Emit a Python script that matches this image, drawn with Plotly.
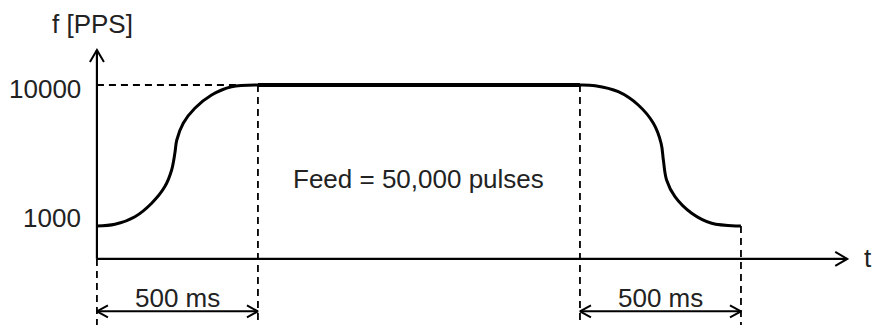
import plotly.graph_objects as go

# ---------------- data ----------------
ACCEL_T = [0, 56, 118, 170, 211, 232, 242, 248, 268, 304, 356, 418, 500]
ACCEL_F = [1000, 1108, 1594, 2455, 3515, 4574, 5640, 6489, 7555, 8513, 9362, 9891, 10000]
PLATEAU_T = [500, 1500]
PLATEAU_F = [10000, 10000]
DECEL_T = [1500, 1547, 1619, 1681, 1728, 1752, 1759, 1769, 1795, 1847, 1909, 1992, 2000]
DECEL_F = [10000, 9955, 9572, 8723, 7555, 6279, 5213, 3936, 2870, 1811, 1172, 1000, 1000]

TICK_VALUES = [10000, 1000]
TICK_LABELS = ["10000", "1000"]
SEGMENT_BOUNDS = [(0, 500), (1500, 2000)]
SEGMENT_LABELS = ["500 ms", "500 ms"]
Y_TITLE = "f [PPS]"
X_TITLE = "t"
FEED_TEXT = "Feed = 50,000 pulses"

# ---------------- layout geometry ----------------
W, H = 873, 325
X_RANGE = [-301, 2410]
Y_RANGE = [-5320, 15425]
AXIS_Y_MIN = -1100
AXIS_Y_MAX = 12230
AXIS_X_MAX = 2330
DIM_Y = -4450
sx = W / (X_RANGE[1] - X_RANGE[0])
sy = H / (Y_RANGE[1] - Y_RANGE[0])

FONT = dict(family="Liberation Sans, Arial, sans-serif", size=26, color="#222222")
BLACK = "#000000"


def chevron(t, f, ux, uy, length=12, half=7):
    """Open arrowhead at (t, f) pointing along screen direction (ux, uy)."""
    px, py = -uy, ux
    xs, ys = [], []
    for s in (1, -1):
        ox = -ux * length + s * px * half
        oy = -uy * length + s * py * half
        xs.append(t + ox / sx)
        ys.append(f - oy / sy)
    return [xs[0], t, xs[1], None], [ys[0], f, ys[1], None]


fig = go.Figure()


def add_line(x, y, width=2, dash=None, shape="linear"):
    fig.add_trace(go.Scatter(
        x=x, y=y, mode="lines", hoverinfo="skip", showlegend=False,
        line=dict(color=BLACK, width=width, dash=dash, shape=shape, smoothing=1.0),
    ))


# dashed guides
DASH = "7px,5px"
add_line([0, ACCEL_T[-1]], [TICK_VALUES[0], TICK_VALUES[0]], width=1.8, dash=DASH)
add_line([0, 0], [AXIS_Y_MIN, Y_RANGE[0]], width=1.8, dash=DASH)
add_line([ACCEL_T[-1], ACCEL_T[-1]], [ACCEL_F[-1], Y_RANGE[0]], width=1.8, dash=DASH)
add_line([DECEL_T[0], DECEL_T[0]], [DECEL_F[0], Y_RANGE[0]], width=1.8, dash=DASH)
add_line([DECEL_T[-1], DECEL_T[-1]], [DECEL_F[-1], Y_RANGE[0]], width=1.8, dash=DASH)

# axes
add_line([0, 0], [AXIS_Y_MIN, AXIS_Y_MAX], width=2.2)
add_line([0, AXIS_X_MAX], [AXIS_Y_MIN, AXIS_Y_MIN], width=2.2)
cx, cy = chevron(0, AXIS_Y_MAX, 0, -1, length=12, half=7)
add_line(cx, cy, width=2)
cx, cy = chevron(AXIS_X_MAX, AXIS_Y_MIN, 1, 0, length=12, half=7)
add_line(cx, cy, width=2)

# profile curve
add_line(ACCEL_T, ACCEL_F, width=3, shape="spline")
add_line(PLATEAU_T, PLATEAU_F, width=4)
add_line(DECEL_T, DECEL_F, width=3, shape="spline")

# dimension arrows
for (t0, t1), lab in zip(SEGMENT_BOUNDS, SEGMENT_LABELS):
    add_line([t0, t1], [DIM_Y, DIM_Y], width=2)
    ax, ay = chevron(t1, DIM_Y, 1, 0, length=11, half=6)
    bx, by = chevron(t0, DIM_Y, -1, 0, length=11, half=6)
    add_line(ax + bx, ay + by, width=2)
    fig.add_annotation(x=(t0 + t1) / 2, y=DIM_Y, text=lab, showarrow=False,
                       font=FONT, xanchor="center", yanchor="middle", yshift=13)

# tick labels
shifts = {10000: -4, 1000: 8}
for v, lab in zip(TICK_VALUES, TICK_LABELS):
    fig.add_annotation(x=0, y=v, text=lab, showarrow=False, font=FONT,
                       xanchor="right", yanchor="middle", xshift=-14, yshift=shifts[v])

# axis titles
fig.add_annotation(x=0, y=AXIS_Y_MAX, text=Y_TITLE, showarrow=False, font=FONT,
                   xanchor="center", yanchor="middle", xshift=-4, yshift=26)
fig.add_annotation(x=AXIS_X_MAX, y=AXIS_Y_MIN, text=X_TITLE, showarrow=False, font=FONT,
                   xanchor="center", yanchor="middle", xshift=21, yshift=1)

# feed label
fig.add_annotation(x=(PLATEAU_T[0] + PLATEAU_T[1]) / 2, y=4000, text=FEED_TEXT,
                   showarrow=False, font=FONT, xanchor="center", yanchor="middle")

fig.update_layout(
    width=W, height=H,
    margin=dict(l=0, r=0, t=0, b=0),
    paper_bgcolor="white", plot_bgcolor="white",
    xaxis=dict(range=X_RANGE, visible=False, fixedrange=True),
    yaxis=dict(range=Y_RANGE, visible=False, fixedrange=True),
    showlegend=False,
)

# remove the default page margin so the 873x325 figure fills the window exactly
PAGE_FIX = (
    "document.body.style.margin='0';"
    "document.body.style.overflow='hidden';"
    "document.documentElement.style.overflow='hidden';"
)

fig.write_html("out.html", config=dict(displayModeBar=False), post_script=PAGE_FIX)
